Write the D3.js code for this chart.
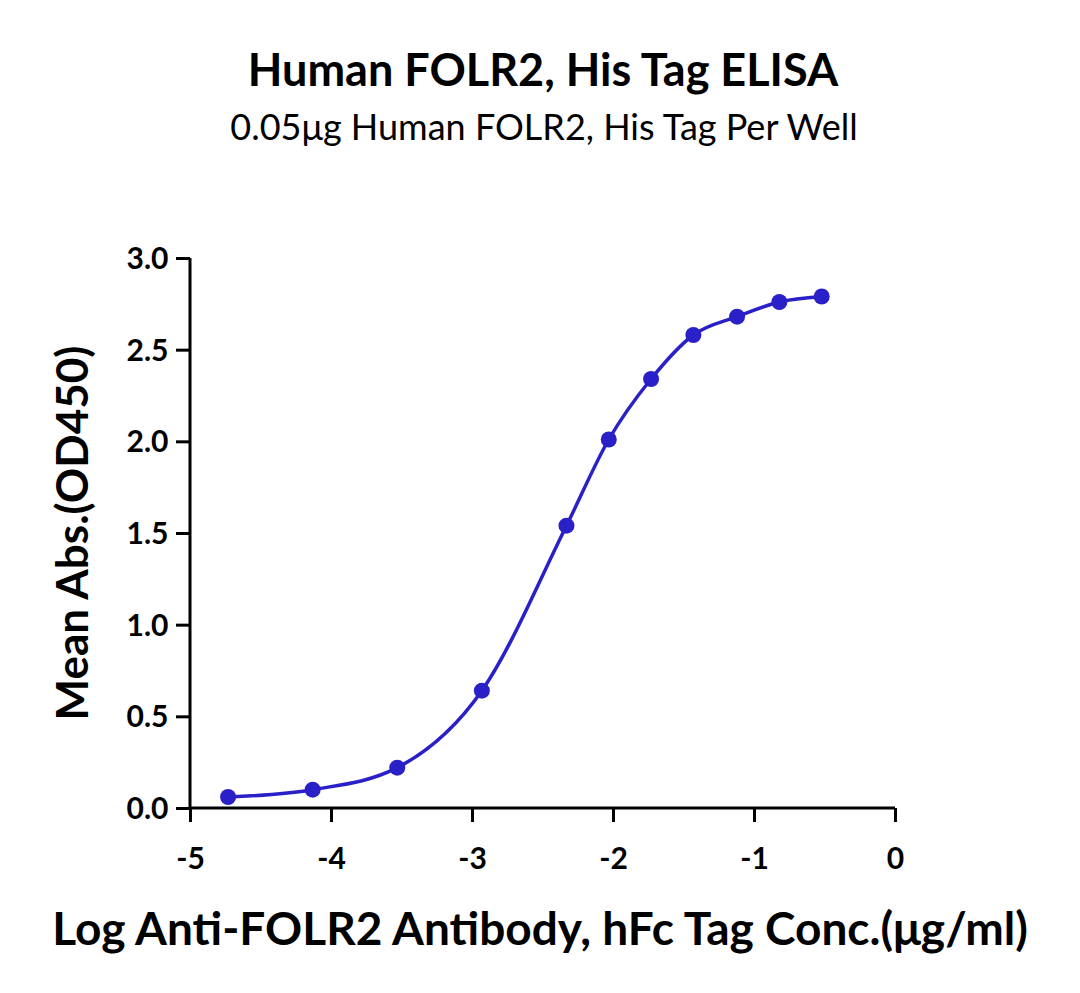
<!DOCTYPE html>
<html><head><meta charset="utf-8">
<script src="https://cdn.jsdelivr.net/npm/d3@7"></script>
<style>body{margin:0;background:#fff}</style></head>
<body><svg id="c" width="1080" height="993"></svg>
<script>
const logConc = [-4.73,-4.13,-3.53,-2.93,-2.33,-2.03,-1.73,-1.43,-1.12,-0.82,-0.52];
const od450 = [0.06,0.10,0.22,0.64,1.54,2.01,2.34,2.58,2.68,2.76,2.79];
const xTicks = [-5,-4,-3,-2,-1,0];
const yTicks = [0,0.5,1.0,1.5,2.0,2.5,3.0];
const color = "#2a20c8";
const font = "Lato, 'Open Sans', sans-serif";
const svg = d3.select("#c");
const x = d3.scaleLinear().domain([-5,0]).range([190,895]);
const y = d3.scaleLinear().domain([0,3]).range([808,258]);
svg.append("text").attr("x",543).attr("y",86).attr("text-anchor","middle").attr("font-family",font).attr("font-weight","bold").attr("font-size",45).text("Human FOLR2, His Tag ELISA");
svg.append("text").attr("x",544).attr("y",140).attr("text-anchor","middle").attr("font-family",font).attr("font-size",36).text("0.05μg Human FOLR2, His Tag Per Well");
const xa = svg.append("g").attr("transform","translate(0,808)").call(d3.axisBottom(x).tickValues(xTicks).tickSize(14).tickFormat(d=>String(d)));
const ya = svg.append("g").attr("transform","translate(190,0)").call(d3.axisLeft(y).tickValues(yTicks).tickSize(14).tickFormat(d3.format(".1f")));
[xa,ya].forEach(a=>{a.selectAll("path,line").attr("stroke","#000").attr("stroke-width",3);
 a.select(".domain").attr("d", a===xa? "M190,0H895":"M0,808V258");
 a.selectAll("text").attr("font-family",font).attr("font-weight","bold").attr("font-size",30).attr("fill","#000");});
xa.selectAll("text").attr("dy","1.45em");
ya.selectAll("text").attr("dx","-0.15em").attr("dy","0.35em");
svg.append("text").attr("x",540).attr("y",945).attr("text-anchor","middle").attr("font-family",font).attr("font-weight","bold").attr("font-size",46).text("Log Anti-FOLR2 Antibody, hFc Tag Conc.(μg/ml)");
svg.append("text").attr("transform","translate(88,533) rotate(-90)").attr("text-anchor","middle").attr("font-family",font).attr("font-weight","bold").attr("font-size",44).text("Mean Abs.(OD450)");
const pts = logConc.map((d,i)=>[d,od450[i]]);
svg.append("path").datum(pts).attr("fill","none").attr("stroke",color).attr("stroke-width",3.5)
 .attr("d",d3.line().x(d=>x(d[0])).y(d=>y(d[1])).curve(d3.curveMonotoneX));
svg.selectAll("circle").data(pts).join("circle").attr("cx",d=>x(d[0])).attr("cy",d=>y(d[1])).attr("r",8).attr("fill",color);
</script></body></html>
